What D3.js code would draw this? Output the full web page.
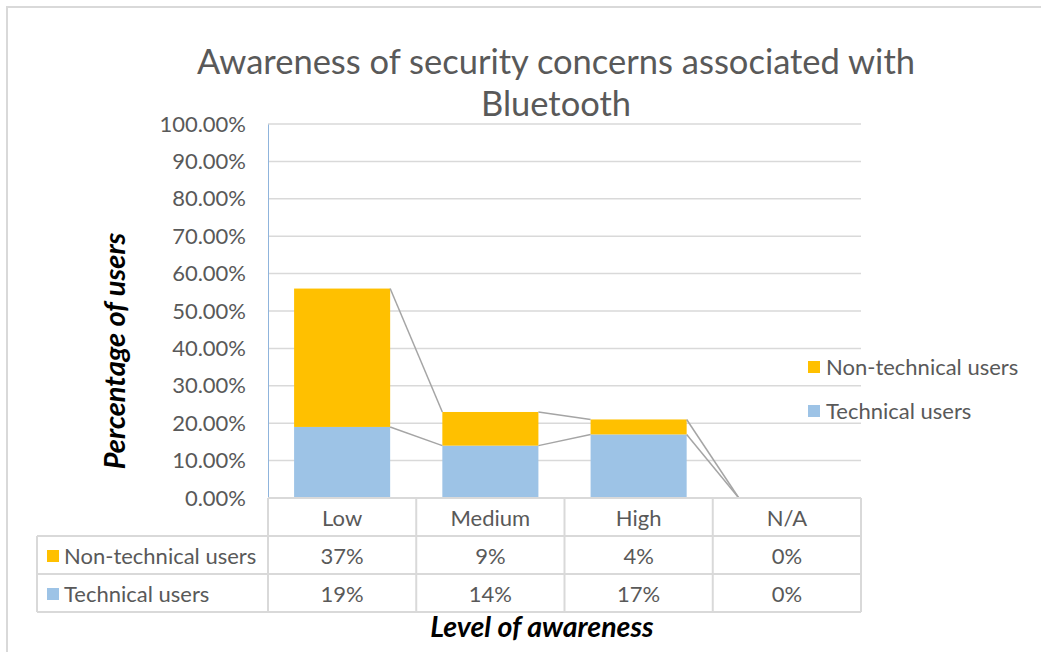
<!DOCTYPE html>
<html>
<head>
<meta charset="utf-8">
<script src="https://cdn.jsdelivr.net/npm/d3@7"></script>
<style>
  html, body { margin: 0; padding: 0; background: #fff; }
  svg { display: block; font-family: Lato, "Open Sans", sans-serif; }
</style>
</head>
<body>
<svg id="chart" width="1041" height="652"></svg>
<script>
// Survey results: awareness level by user group (share of respondents)
const categories = ["Low", "Medium", "High", "N/A"];
const technical = [0.19, 0.14, 0.17, 0.00];
const nonTechnical = [0.37, 0.09, 0.04, 0.00];
const yTicks = [0, 0.1, 0.2, 0.3, 0.4, 0.5, 0.6, 0.7, 0.8, 0.9, 1.0];

const colors = { "Technical users": "#9dc3e6", "Non-technical users": "#ffc000" };
const textColor = "#595959";
const gridColor = "#d9d9d9";
const bodySize = 22;

const svg = d3.select("#chart");

// Outer chart frame
svg.append("path")
  .attr("d", "M7,660 V7 H1060")
  .attr("fill", "none")
  .attr("stroke", "#d9d9d9")
  .attr("stroke-width", 2);

const plot = { left: 268, right: 861, top: 124, bottom: 498 };

const x = d3.scaleBand()
  .domain(categories)
  .range([plot.left, plot.right])
  .paddingInner(0.352)
  .paddingOuter(0.176);

const y = d3.scaleLinear().domain([0, 1]).range([plot.bottom, plot.top]);

// Title
const title = svg.append("text")
  .attr("text-anchor", "middle")
  .attr("fill", textColor)
  .attr("font-size", 34.5)
  .attr("font-weight", 400);
title.append("tspan").attr("x", 556).attr("y", 74).text("Awareness of security concerns associated with");
title.append("tspan").attr("x", 556).attr("y", 116).text("Bluetooth");

// Horizontal gridlines
svg.append("g")
  .selectAll("line")
  .data(yTicks.filter(d => d > 0))
  .join("line")
  .attr("x1", plot.left).attr("x2", plot.right)
  .attr("y1", d => y(d)).attr("y2", d => y(d))
  .attr("stroke", gridColor)
  .attr("stroke-width", 1.5);

// Y axis with percentage labels
const yAxis = d3.axisLeft(y)
  .tickValues(yTicks)
  .tickFormat(d3.format(".2%"))
  .tickSize(0)
  .tickPadding(22);
const gy = svg.append("g")
  .attr("transform", `translate(${plot.left},0)`)
  .call(yAxis);
gy.select(".domain").attr("stroke", "#8fb4dc").attr("stroke-width", 1);
gy.selectAll("text")
  .attr("fill", textColor)
  .attr("font-size", bodySize)
  .attr("font-family", "Lato, 'Open Sans', sans-serif");

// Stacked bars
const rows = categories.map((c, i) => ({
  category: c,
  "Technical users": technical[i],
  "Non-technical users": nonTechnical[i]
}));
const stacked = d3.stack().keys(["Technical users", "Non-technical users"])(rows);

svg.append("g")
  .selectAll("g")
  .data(stacked)
  .join("g")
  .attr("fill", s => colors[s.key])
  .selectAll("rect")
  .data(s => s)
  .join("rect")
  .attr("x", d => x(d.data.category))
  .attr("width", x.bandwidth())
  .attr("y", d => y(d[1]))
  .attr("height", d => y(d[0]) - y(d[1]));

// Series lines joining the top of each segment between neighbouring bars
const seriesLines = svg.append("g")
  .attr("stroke", "#a5a5a5")
  .attr("stroke-width", 1.5)
  .attr("fill", "none");
stacked.forEach(s => {
  for (let i = 0; i < s.length - 1; i++) {
    const a = s[i], b = s[i + 1];
    seriesLines.append("line")
      .attr("x1", x(a.data.category) + x.bandwidth())
      .attr("y1", y(a[1]))
      .attr("x2", x(b.data.category))
      .attr("y2", y(b[1]));
  }
});

// Legend on the right
const legend = svg.append("g");
const legendItems = [
  { name: "Non-technical users", y: 367 },
  { name: "Technical users", y: 411 }
];
legendItems.forEach(it => {
  legend.append("rect")
    .attr("x", 808).attr("y", it.y - 6)
    .attr("width", 12).attr("height", 12)
    .attr("fill", colors[it.name]);
  legend.append("text")
    .attr("x", 826).attr("y", it.y)
    .attr("dy", "0.35em")
    .attr("fill", textColor)
    .attr("font-size", bodySize)
    .text(it.name);
});

// Data table under the plot
const table = svg.append("g");
const rowH = 38;
const tableLeft = 37;
const rowTops = [plot.bottom, plot.bottom + rowH, plot.bottom + 2 * rowH, plot.bottom + 3 * rowH];
const colEdges = categories.map(c => x(c) - x.step() * x.paddingInner() / 2)
  .concat([plot.right]);
colEdges[0] = plot.left;

// Horizontal rules
table.append("line")
  .attr("x1", plot.left).attr("x2", plot.right)
  .attr("y1", rowTops[0]).attr("y2", rowTops[0]);
[1, 2, 3].forEach(r => {
  table.append("line")
    .attr("x1", tableLeft).attr("x2", plot.right)
    .attr("y1", rowTops[r]).attr("y2", rowTops[r]);
});
// Vertical rules
table.append("line")
  .attr("x1", tableLeft).attr("x2", tableLeft)
  .attr("y1", rowTops[1]).attr("y2", rowTops[3]);
colEdges.forEach(cx => {
  table.append("line")
    .attr("x1", cx).attr("x2", cx)
    .attr("y1", rowTops[0]).attr("y2", rowTops[3]);
});
table.selectAll("line").attr("stroke", gridColor).attr("stroke-width", 2);

// Category header row
table.selectAll("text.cat")
  .data(categories)
  .join("text")
  .attr("class", "cat")
  .attr("x", d => x(d) + x.bandwidth() / 2)
  .attr("y", rowTops[0] + rowH / 2 + 1)
  .attr("dy", "0.35em")
  .attr("text-anchor", "middle")
  .attr("fill", textColor)
  .attr("font-size", bodySize)
  .text(d => d);

const fmt = d3.format(".0%");
const tableRows = [
  { name: "Non-technical users", values: nonTechnical },
  { name: "Technical users", values: technical }
];
tableRows.forEach((r, ri) => {
  const cy = rowTops[ri + 1] + rowH / 2 + 1;
  table.append("rect")
    .attr("x", 47).attr("y", cy - 6)
    .attr("width", 12).attr("height", 12)
    .attr("fill", colors[r.name]);
  table.append("text")
    .attr("x", 64).attr("y", cy).attr("dy", "0.35em")
    .attr("fill", textColor)
    .attr("font-size", bodySize)
    .text(r.name);
  r.values.forEach((v, i) => {
    table.append("text")
      .attr("x", x(categories[i]) + x.bandwidth() / 2)
      .attr("y", cy).attr("dy", "0.35em")
      .attr("text-anchor", "middle")
      .attr("fill", textColor)
      .attr("font-size", bodySize)
      .text(fmt(v));
  });
});

// Axis titles
svg.append("text")
  .attr("transform", "translate(125,351) rotate(-90)")
  .attr("text-anchor", "middle")
  .attr("font-size", 29)
  .attr("font-weight", "bold")
  .attr("font-style", "italic")
  .attr("fill", "#000")
  .text("Percentage of users");

svg.append("text")
  .attr("x", 542).attr("y", 637)
  .attr("text-anchor", "middle")
  .attr("font-size", 28.5)
  .attr("font-weight", "bold")
  .attr("font-style", "italic")
  .attr("fill", "#000")
  .text("Level of awareness");
</script>
</body>
</html>
